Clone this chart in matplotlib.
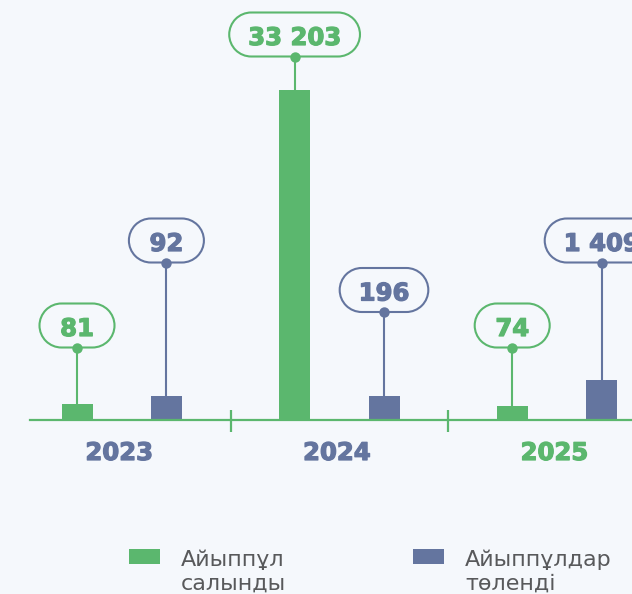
import numpy as np
import matplotlib
matplotlib.use("Agg")
import matplotlib.pyplot as plt
import matplotlib.patheffects as pe
from matplotlib.patches import PathPatch, Rectangle
from matplotlib.path import Path
from matplotlib.transforms import blended_transform_factory, IdentityTransform
from matplotlib.ticker import NullLocator

# ---- data -------------------------------------------------------------
years = ["2023", "2024", "2025"]
fines_imposed = [81, 33203, 74]
fines_paid = [92, 196, 1409]
series_names = ["Айыппұл\nсалынды", "Айыппұлдар\nтөленді"]
highlight_year = "2025"

# ---- style ------------------------------------------------------------
GREEN = "#5bb76e"
BLUE = "#64759f"
BG = "#f5f8fc"
LEGEND_TEXT = "#58595b"
NUM_FONT = ["DejaVu Sans"]
W, H = 632, 594
AX_H = 420.0                       # plot area height in pixels
GROUP_PX = 217.6                   # pixels per category
# callout dot heights above the baseline (pixels)
callout_imposed = [72.5, 363.5, 72.5]
callout_paid = [157.5, 108.0, 157.5]

# display scale that keeps small counts visible next to the large one
_kv = np.array([0.0, 80.0, 90.0, 200.0, 1500.0, 35000.0])
_kh = np.array([0.0, 15.5, 23.5, 23.7, 41.0, 346.0])
_s_hi = (_kh[-1] - _kh[-2]) / (_kv[-1] - _kv[-2])
_s_lo = (_kh[1] - _kh[0]) / (_kv[1] - _kv[0])


def _forward(v):
    v = np.asarray(v, dtype=float)
    out = np.interp(v, _kv, _kh)
    out = np.where(v > _kv[-1], _kh[-1] + (v - _kv[-1]) * _s_hi, out)
    out = np.where(v < 0, v * _s_lo, out)
    return out


def _inverse(h):
    h = np.asarray(h, dtype=float)
    out = np.interp(h, _kh, _kv)
    out = np.where(h > _kh[-1], _kv[-1] + (h - _kh[-1]) / _s_hi, out)
    out = np.where(h < 0, h / _s_lo, out)
    return out


def heavy(col):
    return [pe.withStroke(linewidth=0.9, foreground=col)]


def pill_path(cx, cy, w, h):
    """Closed stadium outline centred at (cx, cy), in pixels."""
    r = h / 2
    left = Path.arc(90, 270)
    right = Path.arc(-90, 90)
    lv = left.vertices * r + [cx - w / 2 + r, cy]
    rv = right.vertices * r + [cx + w / 2 - r, cy]
    verts = np.vstack([lv, rv, lv[:1]])
    codes = np.concatenate([
        left.codes,
        [Path.LINETO] + list(right.codes[1:]),
        [Path.LINETO],
    ])
    return Path(verts, codes)


fig = plt.figure(figsize=(W / 100, H / 100), dpi=100, facecolor=BG)
ax = fig.add_axes([30 / W, (H - 420) / H, (W - 30) / W, AX_H / H])
ax.patch.set_alpha(0)
ax.set_yscale("function", functions=(_forward, _inverse))
ax.set_ylim(0, float(_inverse(AX_H)))
ax.set_xlim(-(121.7 - 30) / GROUP_PX, 2 + (W - (121.7 + 2 * GROUP_PX)) / GROUP_PX)
for side in ["top", "left", "right"]:
    ax.spines[side].set_visible(False)
ax.spines["bottom"].set_color(GREEN)
ax.spines["bottom"].set_linewidth(1.6)
ax.spines["bottom"].set_zorder(3)
for axis in (ax.xaxis, ax.yaxis):
    axis.set_major_locator(NullLocator())
    axis.set_minor_locator(NullLocator())

x = np.arange(len(years))
off = 44.7 / GROUP_PX
width = 31 / GROUP_PX
ax.bar(x - off, fines_imposed, width, color=GREEN, zorder=2)
ax.bar(x + off, fines_paid, width, color=BLUE, zorder=2)

blend = blended_transform_factory(ax.transData, ax.transAxes)

# category separators on the baseline
for b in x[:-1] + 0.5:
    ax.plot([b, b], [-12 / AX_H, 10 / AX_H], transform=blend, color=GREEN,
            lw=1.6, clip_on=False, zorder=3, solid_capstyle="butt")

# year labels
for i, yr in enumerate(years):
    col = GREEN if yr == highlight_year else BLUE
    ax.text(i - 0.012, -40 / AX_H, yr, transform=blend, ha="center",
            va="baseline", fontsize=17.5, fontweight="bold", color=col,
            family=NUM_FONT, clip_on=False, path_effects=heavy(col))


def fmt(v):
    return f"{v:,}".replace(",", " ")


callouts = []
for vals, dots, col, sign in [(fines_imposed, callout_imposed, GREEN, -1),
                              (fines_paid, callout_paid, BLUE, 1)]:
    for i, (v, d) in enumerate(zip(vals, dots)):
        xi = i + sign * off
        top_disp = ax.transData.transform((xi, v))
        top_frac = ax.transAxes.inverted().transform(top_disp)[1]
        dot_frac = d / AX_H
        ax.plot([xi, xi], [top_frac, dot_frac], transform=blend, color=col,
                lw=1.5, zorder=3, solid_capstyle="butt")
        ax.plot([xi], [dot_frac], "o", transform=blend, color=col, ms=7.5,
                mec="none", zorder=6)
        t = ax.text(xi, (d + 11.5) / AX_H, fmt(v), transform=blend,
                    ha="center", va="baseline", fontsize=17.5,
                    fontweight="bold", color=col, family=NUM_FONT, zorder=7,
                    path_effects=heavy(col))
        callouts.append((t, xi, d, col))

# pill-shaped frames around the value labels
fig.canvas.draw()
renderer = fig.canvas.get_renderer()
for t, xi, d, col in callouts:
    ext = t.get_window_extent(renderer)
    bw = max(75.0, ext.width + 38.0)
    bh = 44.0
    cx = ax.transData.transform((xi, 0))[0]
    cy = ax.transAxes.transform((0, d / AX_H))[1] + bh / 2
    ax.add_patch(PathPatch(pill_path(cx, cy, bw, bh),
                           transform=IdentityTransform(), facecolor=BG,
                           edgecolor=col, lw=1.5, zorder=5, clip_on=False))

# legend
for (lx, tx), name, col in zip([(129, 181), (412.5, 465)], series_names, [GREEN, BLUE]):
    fig.add_artist(Rectangle((lx / W, (H - 564) / H), 31 / W, 15.4 / H,
                             transform=fig.transFigure, color=col, lw=0))
    fig.text(tx / W, (H - 589.5) / H, name, ha="left", va="baseline",
             fontsize=16, color=LEGEND_TEXT, linespacing=1.2,
             family=["DejaVu Sans"])

fig.savefig("out.png", dpi=100, facecolor=BG)
